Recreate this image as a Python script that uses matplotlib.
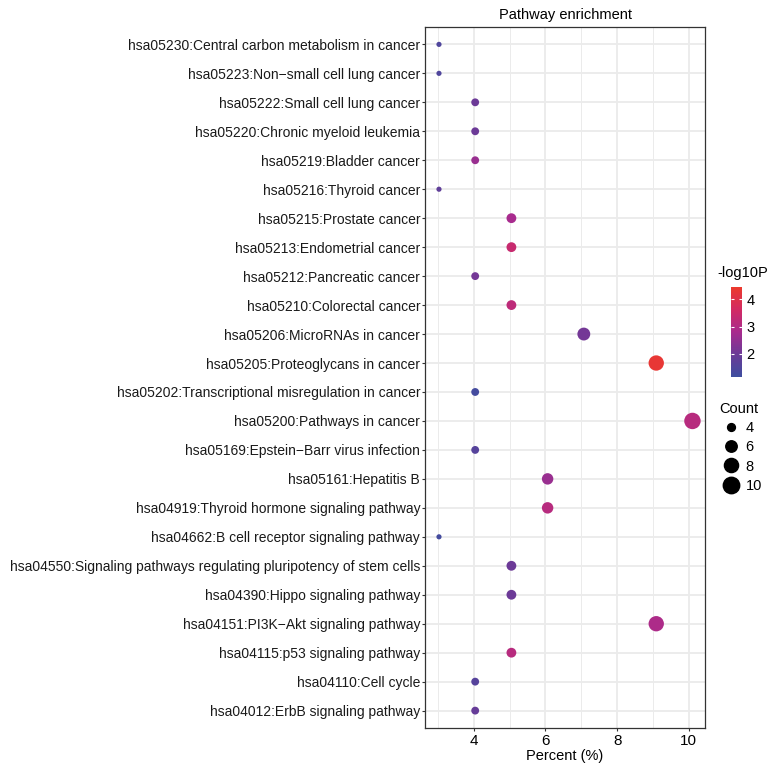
import numpy as np
import matplotlib
matplotlib.use('Agg')
import matplotlib.pyplot as plt
from matplotlib.colors import LinearSegmentedColormap, Normalize
from matplotlib.lines import Line2D
from matplotlib.ticker import MultipleLocator

plt.rcParams['font.family'] = ['Liberation Sans', 'DejaVu Sans']

# pathways, top to bottom as in the figure
pathways = [
    "hsa05230:Central carbon metabolism in cancer",
    "hsa05223:Non\u2212small cell lung cancer",
    "hsa05222:Small cell lung cancer",
    "hsa05220:Chronic myeloid leukemia",
    "hsa05219:Bladder cancer",
    "hsa05216:Thyroid cancer",
    "hsa05215:Prostate cancer",
    "hsa05213:Endometrial cancer",
    "hsa05212:Pancreatic cancer",
    "hsa05210:Colorectal cancer",
    "hsa05206:MicroRNAs in cancer",
    "hsa05205:Proteoglycans in cancer",
    "hsa05202:Transcriptional misregulation in cancer",
    "hsa05200:Pathways in cancer",
    "hsa05169:Epstein\u2212Barr virus infection",
    "hsa05161:Hepatitis B",
    "hsa04919:Thyroid hormone signaling pathway",
    "hsa04662:B cell receptor signaling pathway",
    "hsa04550:Signaling pathways regulating pluripotency of stem cells",
    "hsa04390:Hippo signaling pathway",
    "hsa04151:PI3K\u2212Akt signaling pathway",
    "hsa04115:p53 signaling pathway",
    "hsa04110:Cell cycle",
    "hsa04012:ErbB signaling pathway",
]
counts = [3, 3, 4, 4, 4, 3, 5, 5, 4, 5, 7, 9, 4, 10, 4, 6, 6, 3, 5, 5, 9, 5, 4, 4]
percent = [3.03, 3.03, 4.04, 4.04, 4.04, 3.03, 5.05, 5.05, 4.04, 5.05, 7.07, 9.09,
           4.04, 10.1, 4.04, 6.06, 6.06, 3.03, 5.05, 5.05, 9.09, 5.05, 4.04, 4.04]
neglog10p = [1.5, 1.5, 2.0, 2.0, 2.6, 1.8, 2.8, 3.4, 2.1, 3.2, 2.1, 4.3,
             1.3, 3.1, 1.6, 2.6, 3.1, 1.3, 2.0, 2.0, 2.9, 3.1, 1.6, 1.9]
size_breaks = [4, 6, 8, 10]


def count_to_area(c):
    # ggplot-like area scaling
    return 14 + 18 * (np.asarray(c, dtype=float) - 3)


cmap = LinearSegmentedColormap.from_list(
    'bluered', ['#3D4E9F', '#6B3A97', '#A82B8E', '#D22A63', '#EC3A2C'])
norm = Normalize(vmin=1.16, vmax=4.44)

fig = plt.figure(figsize=(7.71, 7.69), dpi=100)
ax = fig.add_axes([425 / 771, 1 - 728 / 769, 280 / 771, 701 / 769])

n = len(pathways)
ypos = np.arange(n)[::-1]

ax.scatter(percent, ypos, s=count_to_area(counts), c=neglog10p, cmap=cmap,
           norm=norm, zorder=3, linewidths=0)

ax.set_xlim(2.64, 10.45)
ax.set_ylim(-0.6, n - 0.4)
ax.set_yticks(ypos)
ax.set_yticklabels(pathways, fontsize=10, color='#1a1a1a')
ax.xaxis.set_major_locator(MultipleLocator(2))
ax.xaxis.set_minor_locator(MultipleLocator(1))
ax.tick_params(axis='x', which='minor', length=0)
ax.tick_params(axis='both', which='major', length=2, width=0.8, color='#333333', pad=1.5)
ax.tick_params(axis='x', labelsize=11, pad=2)
ax.grid(True, which='major', color='#EBEBEB', linewidth=1.3, zorder=0)
ax.grid(True, which='minor', axis='x', color='#EBEBEB', linewidth=0.7, zorder=0)
ax.set_axisbelow(True)
for sp in ax.spines.values():
    sp.set_color('#333333')
    sp.set_linewidth(0.9)
ax.set_xlabel('Percent (%)', fontsize=10.5, labelpad=1)
ax.set_title('Pathway enrichment', fontsize=10.5, pad=6)

# colour bar
cax = fig.add_axes([731 / 771, 1 - 377 / 769, 11 / 771, 90 / 769])
sm = plt.cm.ScalarMappable(norm=norm, cmap=cmap)
cb = fig.colorbar(sm, cax=cax)
cb.outline.set_visible(False)
cb.set_ticks([2, 3, 4])
cax.tick_params(length=2.5, width=0.8, color='white', direction='in', left=True,
                labelsize=10.5, pad=3)
fig.text(717 / 771, 1 - 273 / 769, '-log10P', fontsize=10.5, va='center', ha='left')

# size legend
handles = [Line2D([], [], linestyle='none', marker='o', color='black',
                  markersize=np.sqrt(count_to_area(b))) for b in size_breaks]
leg = fig.legend(handles, [str(b) for b in size_breaks], title='Count',
                 loc='upper left', bbox_to_anchor=(709 / 771, 1 - 392 / 769),
                 frameon=False, fontsize=10.5, title_fontsize=10.5,
                 handletextpad=0.2, labelspacing=0.35, borderpad=0.2,
                 handlelength=1.6)
leg._legend_box.align = 'left'

fig.savefig('out.png', dpi=100)
